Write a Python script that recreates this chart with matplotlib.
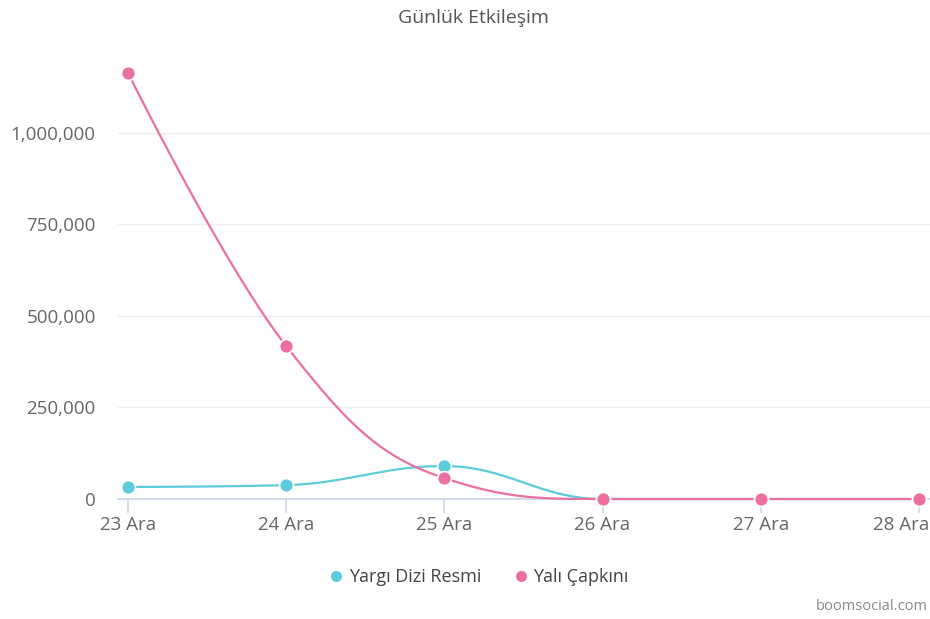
import matplotlib
matplotlib.use("Agg")
import matplotlib.pyplot as plt
from matplotlib.lines import Line2D
from matplotlib.ticker import FuncFormatter
import matplotlib.transforms as mtransforms
import numpy as np

plt.rcParams['font.family'] = ['Open Sans', 'DejaVu Sans']

categories = ["23 Ara", "24 Ara", "25 Ara", "26 Ara", "27 Ara", "28 Ara"]
yargi = [33000, 38000, 90000, 0, 0, 0]
yali = [1164000, 418000, 57000, 0, 0, 0]
series_names = ["Yargı Dizi Resmi", "Yalı Çapkını"]
colors = ["#5ccbdb", "#ec6fa1"]
title = "Günlük Etkileşim"
yticks = [0, 250000, 500000, 750000, 1000000]


def hc_spline(xs, ys, n=40):
    """Highcharts-style spline (smoothing 1.5) as cubic bezier segments."""
    xs = list(map(float, xs)); ys = list(map(float, ys))
    N = len(xs)
    sm = 1.5; den = sm + 1
    lc = [None] * N; rc = [None] * N
    for i in range(1, N - 1):
        px, py = xs[i], ys[i]
        lx, ly = xs[i - 1], ys[i - 1]
        nx, ny = xs[i + 1], ys[i + 1]
        lcx = (sm * px + lx) / den; lcy = (sm * py + ly) / den
        rcx = (sm * px + nx) / den; rcy = (sm * py + ny) / den
        if rcx != lcx:
            corr = ((rcy - lcy) * (rcx - px)) / (rcx - lcx) + py - rcy
            lcy += corr; rcy += corr
        if lcy > ly and lcy > py:
            lcy = max(ly, py); rcy = 2 * py - lcy
        elif lcy < ly and lcy < py:
            lcy = min(ly, py); rcy = 2 * py - lcy
        if rcy > ny and rcy > py:
            rcy = max(ny, py); lcy = 2 * py - rcy
        elif rcy < ny and rcy < py:
            rcy = min(ny, py); lcy = 2 * py - rcy
        lc[i] = (lcx, lcy); rc[i] = (rcx, rcy)
    outx, outy = [], []
    t = np.linspace(0, 1, n)
    for i in range(N - 1):
        p0 = (xs[i], ys[i]); p3 = (xs[i + 1], ys[i + 1])
        p1 = rc[i] if rc[i] is not None else p0
        p2 = lc[i + 1] if lc[i + 1] is not None else p3
        bx = (1 - t) ** 3 * p0[0] + 3 * (1 - t) ** 2 * t * p1[0] + 3 * (1 - t) * t ** 2 * p2[0] + t ** 3 * p3[0]
        by = (1 - t) ** 3 * p0[1] + 3 * (1 - t) ** 2 * t * p1[1] + 3 * (1 - t) * t ** 2 * p2[1] + t ** 3 * p3[1]
        outx.extend(bx); outy.extend(by)
    return np.array(outx), np.array(outy)


fig = plt.figure(figsize=(9.30, 6.19), dpi=100)
ax = fig.add_axes([118 / 930, (619 - 499) / 619, 812 / 930, (499 - 60) / 619])

x = np.arange(len(categories))
for vals, col, name in zip([yargi, yali], colors, series_names):
    sx, sy = hc_spline(x, vals)
    ax.plot(sx, sy, color=col, lw=1.6, zorder=3, clip_on=False)
    ax.plot(x, vals, 'o', color=col, ms=10, mec='white', mew=1.2, zorder=4, clip_on=False)

ax.set_xlim(-0.063, 5.07)
ax.set_ylim(0, 1199000)
ax.set_xticks(x)
# last label is shifted inside the figure (as the reference does), drawn separately
ax.set_xticklabels(categories[:-1] + [""])
ax.set_yticks(yticks)
ax.yaxis.set_major_formatter(FuncFormatter(lambda v, p: f"{int(v):,}"))

ax.grid(axis='y', color='#efefef', lw=1)
ax.set_axisbelow(True)
for s in ['top', 'right', 'left']:
    ax.spines[s].set_visible(False)
ax.spines['bottom'].set_color('#ccd6eb')
ax.spines['bottom'].set_linewidth(1.2)
ax.tick_params(axis='x', colors='#ccd6eb', length=10, width=1.2, labelcolor='#666666', labelsize=13.5, pad=2)
ax.tick_params(axis='y', length=0, labelcolor='#666666', labelsize=13.5, pad=16)

trans = mtransforms.blended_transform_factory(ax.transData, ax.transAxes)
trans = mtransforms.offset_copy(trans, fig=fig, x=7.5, y=-12, units='points')
ax.text(x[-1], 0, categories[-1], transform=trans, ha='right', va='top',
        fontsize=13.5, color='#666666', clip_on=False)

fig.text(473 / 930, 1 - 18 / 619, title, ha='center', va='center', fontsize=14, color='#555555')

handles = [Line2D([], [], color=c, marker='o', ms=9, mec='white', mew=1, lw=0) for c in colors]
fig.legend(handles, series_names, loc='center', bbox_to_anchor=(477 / 930, 1 - 577 / 619), ncol=2,
           frameon=False, fontsize=13, labelcolor='#444444', handletextpad=0.1, columnspacing=1.6,
           handlelength=1.2)

fig.text(928 / 930, 1 - 606 / 619, "boomsocial.com", ha='right', va='center', fontsize=10.5, color='#888888')

fig.savefig("out.png", dpi=100)
